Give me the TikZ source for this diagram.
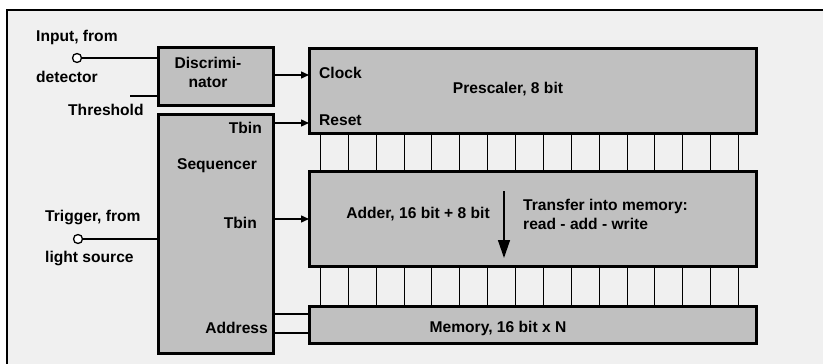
\documentclass[tikz,border=0pt]{standalone}
\usepackage{fontspec}
\setmainfont{Liberation Sans}
\definecolor{panelgrey}{RGB}{240,240,240}
\definecolor{blockgrey}{RGB}{192,192,192}
\usetikzlibrary{arrows.meta,positioning,calc}

\tikzset{
  blockbox/.style={draw=black, line width=3pt, fill=blockgrey, inner sep=0pt},
  lbl/.style={inner sep=0pt, font=\fontsize{15.6}{19}\selectfont\bfseries},
  sig/.style={line width=1.4pt, -{Triangle[length=8pt,width=7pt]}},
  wire/.style={line width=1.4pt},
  busline/.style={line width=1pt},
  port/.style={circle, draw=black, line width=1.3pt, fill=white, minimum size=9pt, inner sep=0pt}
}

\begin{document}
\begin{tikzpicture}[x=1pt, y=-1pt]
  \useasboundingbox (0,0) rectangle (823,364);
  \fill[white] (0,0) rectangle (823,364);
  \begin{scope}
    \clip (0,0) rectangle (823,364);
    \draw[line width=2pt, fill=panelgrey] (7,10) rectangle (840,380);
  \end{scope}

  % blocks
  \node[blockbox, minimum width=115pt, minimum height=58pt] (disc) at (215.5,76) {};
  \node[blockbox, minimum width=115pt, minimum height=239pt] (seq) at (215.5,233.5) {};
  \node[blockbox, minimum width=447pt, minimum height=85pt] (pre) at (532.5,90.5) {};
  \node[blockbox, minimum width=447pt, minimum height=95pt] (add) at (532.5,218.5) {};
  \node[blockbox, minimum width=447pt, minimum height=37pt] (mem) at (532.5,324.5) {};

  % busses between the blocks
  \foreach \i in {0,...,15} {
    \draw[busline] ($(pre.south west)+(322-309+27.87*\i,0)$) -- ($(add.north west)+(322-309+27.87*\i,0)$);
    \draw[busline] ($(add.south west)+(322-309+27.87*\i,0)$) -- ($(mem.north west)+(322-309+27.87*\i,0)$);
  }

  % inputs
  \node[port] (inp) at (77,58) {};
  \node[lbl, anchor=west] (inpA) at (36,37) {Input, from};
  \node[lbl, anchor=west] (inpB) at (36,77) {detector};
  \node[lbl, anchor=west] (thr) at (68,110) {Threshold};
  \coordinate (thrEnd) at (130,96);
  \node[port] (trg) at (78,239) {};
  \node[lbl, anchor=west] (trgA) at (45,217) {Trigger, from};
  \node[lbl, anchor=west] (trgB) at (45,258) {light source};

  \draw[wire] (inp.east) -- (inp.east -| disc.west);
  \draw[wire] (thrEnd) -- (thrEnd -| disc.west);
  \draw[wire] (trg.east) -- (trg.east -| seq.west);

  % block texts
  \node[lbl, align=center] (discT) at (208,72) {Discrimi-\\nator};
  \node[lbl, anchor=east] (tbinA) at (262,128) {Tbin};
  \node[lbl] (seqT) at (217,166) {Sequencer};
  \node[lbl, anchor=east] (tbinB) at (257,223) {Tbin};
  \node[lbl, anchor=east] (addr) at (268,328) {Address};
  \node[lbl, anchor=west] (clk) at (319,73) {Clock};
  \node[lbl, anchor=west] (rst) at (319,120) {Reset};
  \node[lbl] (preT) at (508,89) {Prescaler, 8 bit};
  \node[lbl] (addT) at (418,214) {Adder, 16 bit + 8 bit};
  \node[lbl, anchor=west, align=left] (xfer) at (523,214) {Transfer into memory:\\read - add - write};
  \node[lbl] (memT) at (498,328) {Memory, 16 bit x N};

  % connections
  \coordinate (clkIn) at (309,75);
  \coordinate (rstIn) at (309,123);
  \coordinate (addIn) at (309,219);
  \draw[sig] (clkIn -| disc.east) -- (clkIn);
  \draw[sig] (rstIn -| seq.east) -- (rstIn);
  \draw[sig] (addIn -| seq.east) -- (addIn);
  \draw[wire] (seq.east |- 0,314) -- (mem.west |- 0,314);
  \draw[wire] (seq.east |- 0,333) -- (mem.west |- 0,333);

  \coordinate (xferTop) at (504,191);
  \coordinate (xferEnd) at (504,258);
  \draw[line width=1.4pt, -{Triangle[length=18pt,width=12pt]}] (xferTop) -- (xferEnd);
\end{tikzpicture}
\end{document}
